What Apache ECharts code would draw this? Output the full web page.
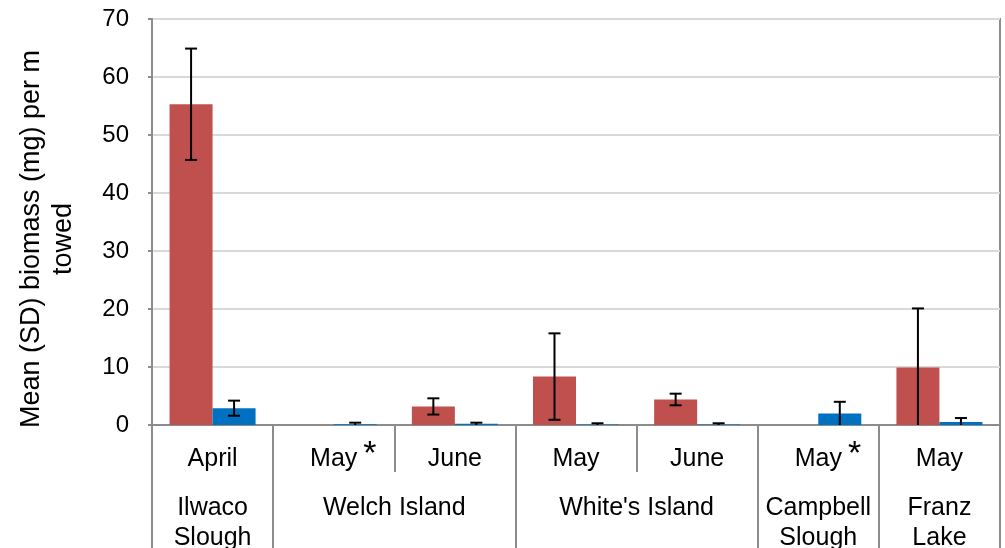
<!DOCTYPE html>
<html>
<head>
<meta charset="utf-8">
<script src="https://cdn.jsdelivr.net/npm/echarts@6/dist/echarts.min.js"></script>
<style>
  html, body { margin: 0; padding: 0; background: #fff; }
  #chart { width: 1005px; height: 548px; }
</style>
</head>
<body>
<div id="chart"></div>
<script>
// Sampling months (first axis row); '*' marks a flagged sample
const months = ['April', 'May*', 'June', 'May', 'June', 'May*', 'May'];
// Sites (second axis row) and the month slots each one spans
const sites = ['Ilwaco\nSlough', 'Welch Island', "White's Island", 'Campbell\nSlough', 'Franz\nLake'];
const siteStart = [0, 1, 3, 5, 6];
const siteEnd = [1, 3, 5, 6, 7];
// Mean biomass (mg) per m towed and its standard deviation
const redMean = [55.3, 0, 3.2, 8.35, 4.4, 0, 9.9];
const redSD = [9.6, 0, 1.4, 7.45, 1.0, 0, 10.2];
const blueMean = [2.9, 0.15, 0.2, 0.1, 0.1, 2.0, 0.5];
const blueSD = [1.3, 0.25, 0.2, 0.2, 0.2, 2.0, 0.7];
// Value axis ticks
const yTicks = [0, 10, 20, 30, 40, 50, 60, 70];

const FONT = "'Liberation Sans', Arial, sans-serif";
const GREY = '#8c8c8c';
const CAT_GAP = 0.29;

const chart = echarts.init(document.getElementById('chart'), null, { renderer: 'canvas' });

const siteCenters = sites.map((s, i) => (siteStart[i] + siteEnd[i]) / 2);
const siteBounds = [0].concat(siteEnd);

function errData(mean, sd, side) {
  return mean.map((m, i) => [i, m, sd[i], side]);
}

// Vertical SD whisker with caps, placed over the matching bar of the pair
function renderError(params, api) {
  const idx = api.value(0);
  const mean = api.value(1);
  const sd = api.value(2);
  const side = api.value(3);
  if (!sd) return null;
  const band = api.size([1, 0])[0];
  const barW = band * (1 - CAT_GAP) / 2;
  const cx = api.coord([idx, mean])[0] + side * barW / 2;
  const hiVal = mean + sd;
  const loVal = Math.max(0, mean - sd);
  const yHi = api.coord([idx, hiVal])[1];
  const yLo = api.coord([idx, loVal])[1];
  const cap = 6;
  const style = { stroke: '#000', lineWidth: 2 };
  const children = [
    { type: 'line', shape: { x1: cx, y1: yHi, x2: cx, y2: yLo }, style },
    { type: 'line', shape: { x1: cx - cap, y1: yHi, x2: cx + cap, y2: yHi }, style }
  ];
  if (mean - sd > 0.05) {
    children.push({ type: 'line', shape: { x1: cx - cap, y1: yLo, x2: cx + cap, y2: yLo }, style });
  }
  return { type: 'group', children };
}

const option = {
  animation: false,
  backgroundColor: '#fff',
  textStyle: { fontFamily: FONT },
  grid: {
    left: 152, right: 5, top: 19, bottom: 123,
    outerBoundsMode: 'none',
    show: true, borderColor: GREY, borderWidth: 2, backgroundColor: 'transparent'
  },
  xAxis: [
    {
      type: 'category',
      data: months,
      boundaryGap: true,
      axisLine: { show: true, lineStyle: { color: GREY, width: 2 } },
      axisTick: { show: true, inside: false, length: 47, alignWithLabel: false, interval: 0,
                  lineStyle: { color: GREY, width: 2 } },
      axisLabel: {
        interval: 0, margin: 19, color: '#000', fontSize: 25, fontFamily: FONT, lineHeight: 30,
        formatter: function (v) {
          if (v.endsWith('*')) return '{h|*}' + v.slice(0, -1) + '{s|*}';
          return v;
        },
        rich: {
          s: { fontSize: 34, lineHeight: 8, verticalAlign: 'top', color: '#000',
               fontFamily: FONT, padding: [-6, 0, 0, 6] },
          h: { fontSize: 34, lineHeight: 8, verticalAlign: 'top', color: 'rgba(0,0,0,0)',
               fontFamily: FONT, padding: [-6, 6, 0, 0] }
        }
      },
      splitLine: { show: false }
    },
    {
      type: 'value',
      min: 0, max: 7,
      position: 'bottom',
      offset: 47,
      axisLine: { show: false },
      axisTick: { show: true, length: 80, customValues: siteBounds,
                  lineStyle: { color: GREY, width: 2 } },
      axisLabel: {
        show: true, margin: 21, color: '#000', fontSize: 25, fontFamily: FONT, lineHeight: 30,
        customValues: siteCenters,
        formatter: function (v) {
          const i = siteCenters.findIndex(c => Math.abs(c - v) < 1e-6);
          return i >= 0 ? sites[i] : '';
        }
      },
      splitLine: { show: false }
    }
  ],
  yAxis: {
    type: 'value',
    min: yTicks[0], max: yTicks[yTicks.length - 1], interval: 10,
    name: 'Mean (SD) biomass (mg) per m\ntowed',
    nameLocation: 'middle',
    nameRotate: 90,
    nameGap: 72,
    nameTextStyle: { color: '#000', fontSize: 27, fontFamily: FONT, lineHeight: 32,
                     padding: [0, 34, 0, 0] },
    axisLine: { show: true, lineStyle: { color: GREY, width: 2 } },
    axisTick: { show: true, length: 4, lineStyle: { color: GREY, width: 2 } },
    axisLabel: { color: '#000', fontSize: 24, fontFamily: FONT, margin: 23 },
    splitLine: { show: true, lineStyle: { color: '#d9d9d9', width: 2 } }
  },
  series: [
    {
      type: 'bar', xAxisIndex: 0, data: redMean,
      barGap: '0%', barCategoryGap: (CAT_GAP * 100) + '%',
      itemStyle: { color: '#c0504d' }
    },
    {
      type: 'bar', xAxisIndex: 0, data: blueMean,
      barGap: '0%', barCategoryGap: (CAT_GAP * 100) + '%',
      itemStyle: { color: '#0070c0' }
    },
    {
      type: 'custom', xAxisIndex: 0, z: 5,
      renderItem: renderError,
      encode: { x: 0, y: 1 },
      data: errData(redMean, redSD, -1)
    },
    {
      type: 'custom', xAxisIndex: 0, z: 5,
      renderItem: renderError,
      encode: { x: 0, y: 1 },
      data: errData(blueMean, blueSD, 1)
    }
  ]
};

chart.setOption(option);
</script>
</body>
</html>
